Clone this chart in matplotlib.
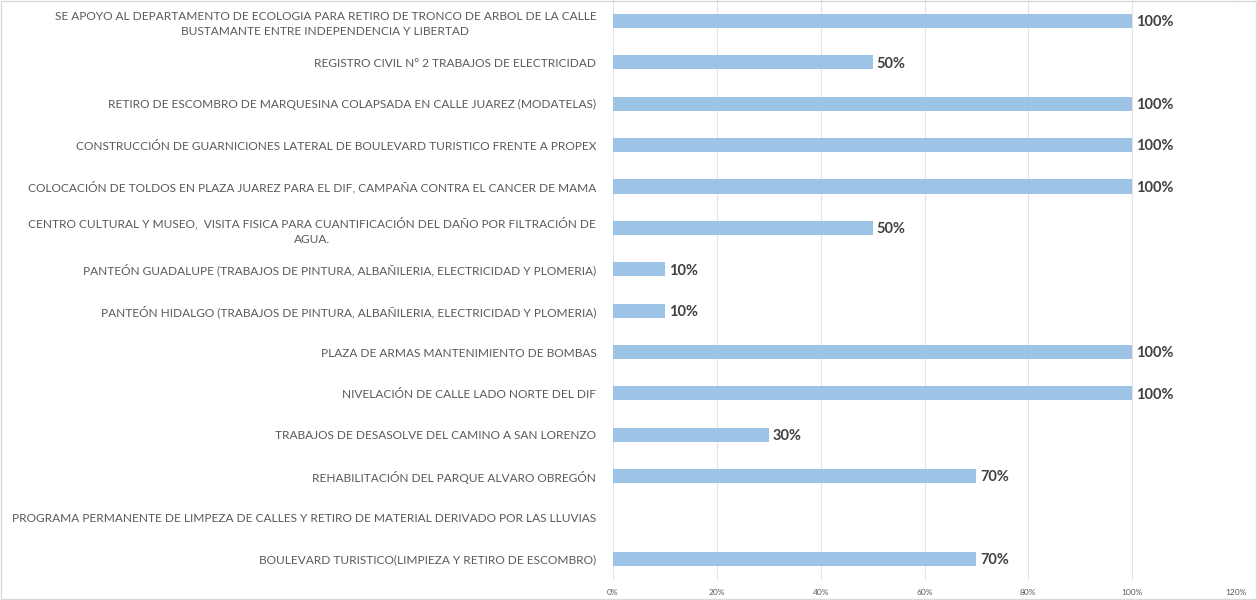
import matplotlib.pyplot as plt
from matplotlib.patches import Rectangle
from matplotlib.ticker import PercentFormatter

# top to bottom
categories = [
    "SE APOYO AL DEPARTAMENTO DE ECOLOGIA PARA RETIRO DE TRONCO DE ARBOL DE LA CALLE\nBUSTAMANTE ENTRE INDEPENDENCIA Y LIBERTAD",
    "REGISTRO CIVIL N° 2 TRABAJOS DE ELECTRICIDAD",
    "RETIRO DE ESCOMBRO DE MARQUESINA COLAPSADA EN CALLE JUAREZ (MODATELAS)",
    "CONSTRUCCIÓN DE GUARNICIONES LATERAL DE BOULEVARD TURISTICO FRENTE A PROPEX",
    "COLOCACIÓN DE TOLDOS EN PLAZA JUAREZ PARA EL DIF, CAMPAÑA CONTRA EL CANCER DE MAMA",
    "CENTRO CULTURAL Y MUSEO,  VISITA FISICA PARA CUANTIFICACIÓN DEL DAÑO POR FILTRACIÓN DE\nAGUA.",
    "PANTEÓN GUADALUPE (TRABAJOS DE PINTURA, ALBAÑILERIA, ELECTRICIDAD Y PLOMERIA)",
    "PANTEÓN HIDALGO (TRABAJOS DE PINTURA, ALBAÑILERIA, ELECTRICIDAD Y PLOMERIA)",
    "PLAZA DE ARMAS MANTENIMIENTO DE BOMBAS",
    "NIVELACIÓN DE CALLE LADO NORTE DEL DIF",
    "TRABAJOS DE DESASOLVE DEL CAMINO A SAN LORENZO",
    "REHABILITACIÓN DEL PARQUE ALVARO OBREGÓN",
    "PROGRAMA PERMANENTE DE LIMPEZA DE CALLES Y RETIRO DE MATERIAL DERIVADO POR LAS LLUVIAS",
    "BOULEVARD TURISTICO(LIMPIEZA Y RETIRO DE ESCOMBRO)",
]
avance = [100, 50, 100, 100, 100, 50, 10, 10, 100, 100, 30, 70, 0, 70]
xticks = [0, 20, 40, 60, 80, 100, 120]

plt.rcParams['font.family'] = ['Lato', 'DejaVu Sans']

fig = plt.figure(figsize=(12.57, 6), dpi=100)
ax = fig.add_axes([0.4877, 0.034, 0.9833 - 0.4877, 0.9655])

y = list(range(len(categories)))
ax.barh(y, avance, height=0.34, color="#9DC3E6", zorder=2)
ax.set_ylim(len(categories) - 0.5, -0.5)
ax.set_xlim(0, 120)

for yi, v in zip(y, avance):
    if v > 0:
        ax.text(v + 0.7, yi + 0.03, f"{v}%", va="center", ha="left",
                fontsize=10.5, fontweight="bold", color="#404040")

ax.set_yticks(y)
ax.set_yticklabels(categories, fontsize=8.6, color="#595959",
                   multialignment="center", linespacing=1.45)
ax.tick_params(axis="y", length=0, pad=12)
ax.set_xticks(xticks)
ax.xaxis.set_major_formatter(PercentFormatter(decimals=0))
ax.tick_params(axis="x", length=0, labelsize=6, labelcolor="#595959", pad=7)
ax.grid(axis="x", color="#E3E3E3", linewidth=0.8, zorder=0)
for s in ax.spines.values():
    s.set_visible(False)

fig.patches.append(Rectangle((0.0008, 0.002), 0.9984, 0.996, transform=fig.transFigure,
                             fill=False, edgecolor="#D9D9D9", linewidth=1))

fig.savefig("out.png", dpi=100)
